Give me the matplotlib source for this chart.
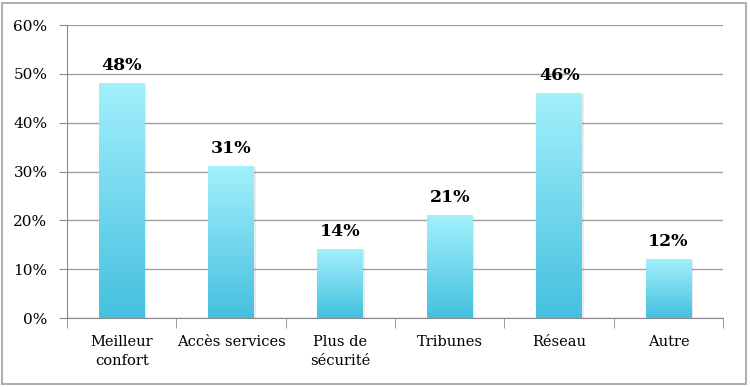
import numpy as np
import matplotlib.pyplot as plt
from matplotlib.patches import Rectangle
from matplotlib.colors import LinearSegmentedColormap

categories = ["Meilleur\nconfort", "Accès services", "Plus de\nsécurité", "Tribunes", "Réseau", "Autre"]
values = [48, 31, 14, 21, 46, 12]
value_labels = ["48%", "31%", "14%", "21%", "46%", "12%"]
y_ticks = [0, 10, 20, 30, 40, 50, 60]

plt.rcParams['font.family'] = ['DejaVu Serif']

fig = plt.figure(figsize=(7.5, 3.87), dpi=100, facecolor='white')
ax = fig.add_axes([0.0893, 0.178, 0.875, 0.757])

# outer border of the chart area
fig.patches.append(Rectangle((0.003, 0.008), 0.992, 0.985, transform=fig.transFigure,
                             fill=False, edgecolor='#b0b0b0', linewidth=1.5))

grad = LinearSegmentedColormap.from_list('bar', ['#45c0df', '#a2f0fc'])
bar_w = 0.42
x = np.arange(len(categories))
bars = ax.bar(x, values, width=bar_w, color='none', zorder=3)
for b, v, lab in zip(bars, values, value_labels):
    x0 = b.get_x()
    # subtle shadow
    ax.add_patch(Rectangle((x0 + 0.015, 0), bar_w, v, facecolor='#000000', alpha=0.08,
                           edgecolor='none', zorder=2))
    img = np.linspace(0, 1, 100).reshape(-1, 1)
    ax.imshow(img, cmap=grad, origin='lower', aspect='auto',
              extent=(x0, x0 + bar_w, 0, v), zorder=3)
    ax.text(b.get_x() + bar_w / 2, v + 2.0, lab, ha='center', va='bottom',
            fontsize=12.5, fontweight='bold', color='black')

ax.set_xlim(-0.5, len(categories) - 0.5)
ax.set_ylim(0, 60)
ax.set_yticks(y_ticks)
ax.set_yticklabels([f"{t}%" for t in y_ticks], fontsize=11)
ax.yaxis.grid(True, color='#a0a0a0', linewidth=1, zorder=0)
ax.set_axisbelow(True)

ax.set_xticks(x)
ax.set_xticklabels(categories, fontsize=10.5, linespacing=1.5)
ax.set_xticks(np.arange(-0.5, len(categories)), minor=True)
ax.tick_params(axis='x', which='major', length=0, pad=12)
ax.tick_params(axis='x', which='minor', length=7, color='#8a8a8a', direction='out')
ax.tick_params(axis='y', length=6, color='#8a8a8a', pad=8)

for s in ['top', 'right']:
    ax.spines[s].set_visible(False)
ax.spines['left'].set_color('#8a8a8a')
ax.spines['bottom'].set_color('#8a8a8a')

fig.savefig('out.png', dpi=100)
